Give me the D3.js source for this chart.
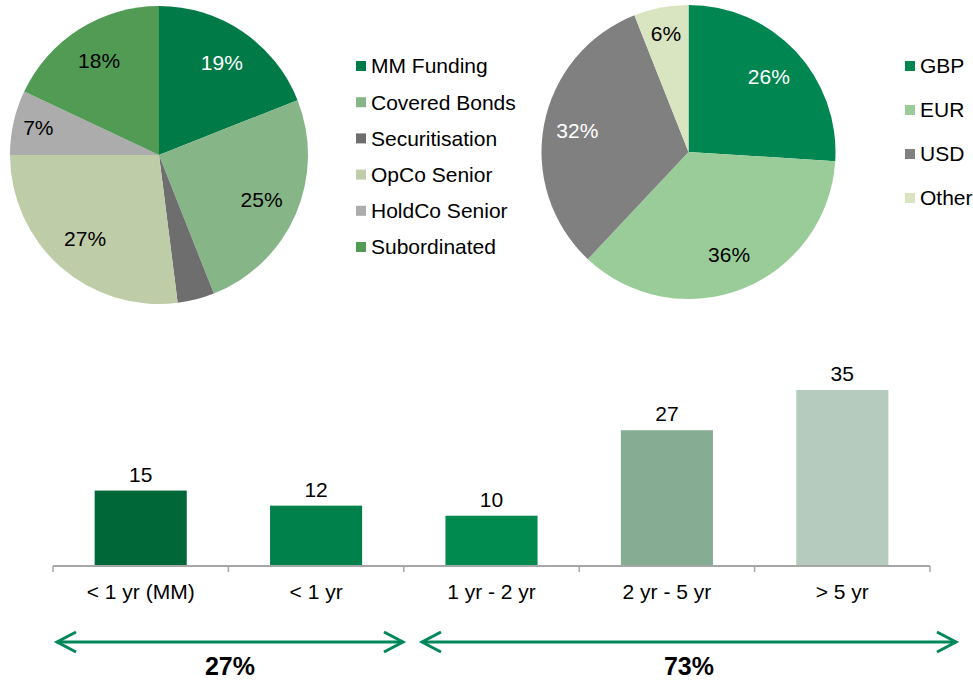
<!DOCTYPE html>
<html>
<head>
<meta charset="utf-8">
<script src="https://cdn.jsdelivr.net/npm/d3@7"></script>
<style>
  body { margin: 0; background: #fff; }
  svg { display: block; font-family: Arial, "Liberation Sans", sans-serif; }
</style>
</head>
<body>
<svg id="chart" width="973" height="681"></svg>
<script>
// funding by product
var productNames = ['MM Funding', 'Covered Bonds', 'Securitisation', 'OpCo Senior', 'HoldCo Senior', 'Subordinated'];
var productShares = [19, 25, 4, 27, 7, 18];
var productLabels = ['19%', '25%', '', '27%', '7%', '18%'];

// funding by currency
var currencyNames = ['GBP', 'EUR', 'USD', 'Other'];
var currencyShares = [26, 36, 32, 6];
var currencyLabels = ['26%', '36%', '32%', '6%'];

// maturity profile
var maturityCats = ['< 1 yr (MM)', '< 1 yr', '1 yr - 2 yr', '2 yr - 5 yr', '> 5 yr'];
var maturityVals = [15, 12, 10, 27, 35];

// groupings under the bars
var groupNames = ['27%', '73%'];

var productColors = ['#007a47', '#86b587', '#6e6e6e', '#bfcca8', '#acacac', '#529b55'];
var productText = ['#fff', '#000', '#000', '#000', '#000', '#000'];
var productLabelR = [0.75, 0.75, 0.75, 0.75, 0.83, 0.75];

var currencyColors = ['#008751', '#99cc99', '#808080', '#d9e4c0'];
var currencyText = ['#fff', '#000', '#fff', '#000'];
var currencyLabelR = [0.75, 0.75, 0.77, 0.82];

var barColors = ['#006838', '#00804a', '#008a50', '#86ad93', '#b5cbbd'];
var green = '#00875a';
var fontSize = '21px';

var svg = d3.select('#chart');


function drawPie(cx, cy, r, values, colors, labels, textColors, labelR) {

    var pie = d3.pie().sort(null).value(function(d) { return d; });
    var arc = d3.arc().innerRadius(0).outerRadius(r);

    var g = svg.append('g').attr('transform', 'translate(' + cx + ',' + cy + ')');

    var arcs = pie(values);

    g.selectAll('path')
        .data(arcs)
        .enter()
        .append('path')
        .attr('d', arc)
        .attr('fill', function(d, i) { return colors[i]; });

    g.selectAll('text')
        .data(arcs)
        .enter()
        .append('text')
        .attr('transform', function(d, i) {
            var a = (d.startAngle + d.endAngle) / 2;
            var rr = r * labelR[i];
            return 'translate(' + (Math.sin(a) * rr) + ',' + (-Math.cos(a) * rr) + ')';
        })
        .attr('text-anchor', 'middle')
        .attr('dy', '0.35em')
        .style('font-size', fontSize)
        .attr('fill', function(d, i) { return textColors[i]; })
        .text(function(d, i) { return labels[i]; });
}


function drawLegend(x, y0, step, names, colors) {

    var g = svg.append('g');

    var items = g.selectAll('g')
        .data(names)
        .enter()
        .append('g')
        .attr('transform', function(d, i) { return 'translate(' + x + ',' + (y0 + i * step) + ')'; });

    items.append('rect')
        .attr('x', 0)
        .attr('y', -5)
        .attr('width', 10)
        .attr('height', 10)
        .attr('fill', function(d, i) { return colors[i]; });

    items.append('text')
        .attr('x', 15)
        .attr('dy', '0.35em')
        .style('font-size', fontSize)
        .attr('fill', '#000')
        .text(function(d) { return d; });
}


drawPie(159, 155, 149, productShares, productColors, productLabels, productText, productLabelR);
drawLegend(356, 66, 36.2, productNames, productColors);

drawPie(688.5, 152, 147, currencyShares, currencyColors, currencyLabels, currencyText, currencyLabelR);
drawLegend(905, 66, 44, currencyNames, currencyColors);


// bar chart
var x = d3.scaleBand()
    .domain(maturityCats)
    .range([53, 930])
    .paddingInner(0.475)
    .paddingOuter(0.2375);

var y = d3.scaleLinear()
    .domain([0, 35])
    .range([566, 390]);

var bars = svg.append('g');

bars.selectAll('rect')
    .data(maturityVals)
    .enter()
    .append('rect')
    .attr('x', function(d, i) { return x(maturityCats[i]); })
    .attr('y', function(d) { return y(d); })
    .attr('width', x.bandwidth())
    .attr('height', function(d) { return y(0) - y(d); })
    .attr('fill', function(d, i) { return barColors[i]; });

bars.selectAll('text')
    .data(maturityVals)
    .enter()
    .append('text')
    .attr('x', function(d, i) { return x(maturityCats[i]) + x.bandwidth() / 2; })
    .attr('y', function(d) { return y(d) - 9; })
    .attr('text-anchor', 'middle')
    .style('font-size', fontSize)
    .text(function(d) { return d; });

var axis = svg.append('g')
    .attr('transform', 'translate(0,' + y(0) + ')')
    .call(d3.axisBottom(x).tickSize(0).tickPadding(18));

axis.select('.domain').attr('stroke', '#a6a6a6').attr('stroke-width', 2).attr('d', 'M53,0H930');
axis.selectAll('.tick text').style('font-size', fontSize).attr('fill', '#000');
axis.attr('font-family', null).attr('font-size', null);

// tick marks between categories
var step = x.step();
var bounds = d3.range(maturityCats.length + 1).map(function(i) { return 53 + i * step; });

axis.selectAll('line.sep')
    .data(bounds)
    .enter()
    .append('line')
    .attr('class', 'sep')
    .attr('x1', function(d) { return d; })
    .attr('x2', function(d) { return d; })
    .attr('y1', 0)
    .attr('y2', 6)
    .attr('stroke', '#a6a6a6')
    .attr('stroke-width', 1.5);


// arrows for the groupings
var arrowY = 642;
var arrowStarts = [57, 422];
var arrowEnds = [403, 956];

var arrows = svg.append('g');

groupNames.forEach(function(name, i) {

    var x1 = arrowStarts[i];
    var x2 = arrowEnds[i];

    arrows.append('line')
        .attr('x1', x1).attr('x2', x2)
        .attr('y1', arrowY).attr('y2', arrowY)
        .attr('stroke', green)
        .attr('stroke-width', 3);

    arrows.append('path')
        .attr('d', 'M' + (x1 + 19) + ',' + (arrowY - 10) + 'L' + x1 + ',' + arrowY + 'L' + (x1 + 19) + ',' + (arrowY + 10))
        .attr('fill', 'none')
        .attr('stroke', green)
        .attr('stroke-width', 3);

    arrows.append('path')
        .attr('d', 'M' + (x2 - 19) + ',' + (arrowY - 10) + 'L' + x2 + ',' + arrowY + 'L' + (x2 - 19) + ',' + (arrowY + 10))
        .attr('fill', 'none')
        .attr('stroke', green)
        .attr('stroke-width', 3);

    arrows.append('text')
        .attr('x', (x1 + x2) / 2)
        .attr('y', 675)
        .attr('text-anchor', 'middle')
        .style('font-size', '25px')
        .style('font-weight', 'bold')
        .text(name);
});

</script>
</body>
</html>
